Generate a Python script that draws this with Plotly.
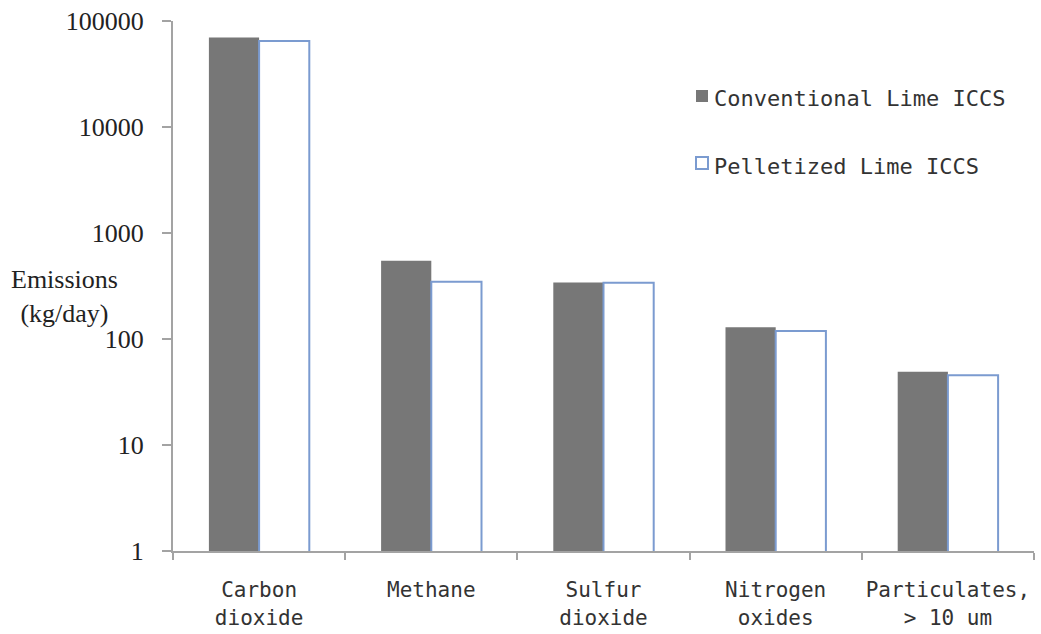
import plotly.graph_objects as go

# Daily emissions by pollutant for the two ICCS process variants
categories = [
    "Carbon<br>dioxide",
    "Methane",
    "Sulfur<br>dioxide",
    "Nitrogen<br>oxides",
    "Particulates,<br>> 10 um",
]
conventional = [69700, 546, 342, 129, 49]
pelletized = [64800, 346, 339, 119, 45.6]
series_names = ["Conventional Lime ICCS", "Pelletized Lime ICCS"]
y_ticks = [1, 10, 100, 1000, 10000, 100000]
y_tick_labels = ["1", "10", "100", "1000", "10000", "100000"]

W, H = 1041, 634
ML, MR, MT, MB = 173, 7, 21, 83
PW, PH = W - ML - MR, H - MT - MB

MONO = "DejaVu Sans Mono"
SERIF = "Liberation Serif, Times New Roman, serif"
AXIS_GRAY = "#a3a3a3"
BAR_GRAY = "#777777"
OUTLINE_BLUE = "#7b9bd0"


def px(x):
    return (x - ML) / PW


def py(y):
    return (H - MB - y) / PH


fig = go.Figure()
fig.add_trace(go.Bar(
    x=categories, y=conventional, name=series_names[0],
    marker=dict(color=BAR_GRAY, line=dict(width=0)),
    showlegend=False,
))
fig.add_trace(go.Bar(
    x=categories, y=pelletized, name=series_names[1],
    marker=dict(color="white", line=dict(color=OUTLINE_BLUE, width=2)),
    showlegend=False,
))

# Legend drawn as swatches plus labels
shapes = [
    dict(type="rect", xref="paper", yref="paper",
         x0=px(696), x1=px(708), y0=py(102), y1=py(90),
         fillcolor=BAR_GRAY, line=dict(width=0)),
    dict(type="rect", xref="paper", yref="paper",
         x0=px(696), x1=px(708), y0=py(169), y1=py(157),
         fillcolor="white", line=dict(color=OUTLINE_BLUE, width=2)),
]
annotations = [
    dict(text=series_names[0], xref="paper", yref="paper",
         x=px(712), y=py(99), xanchor="left", yanchor="middle",
         showarrow=False, font=dict(family=MONO, size=22, color="#333")),
    dict(text=series_names[1], xref="paper", yref="paper",
         x=px(712), y=py(166), xanchor="left", yanchor="middle",
         showarrow=False, font=dict(family=MONO, size=22, color="#333")),
    dict(text="Emissions<br>(kg/day)", xref="paper", yref="paper",
         x=px(64), y=py(296), xanchor="center", yanchor="middle",
         showarrow=False, align="center",
         font=dict(family=SERIF, size=26, color="#222")),
]

fig.update_layout(
    width=W, height=H,
    margin=dict(l=ML, r=MR, t=MT, b=MB, pad=0, autoexpand=False),
    paper_bgcolor="white", plot_bgcolor="white",
    barmode="group", bargap=0.417, bargroupgap=0,
    shapes=shapes, annotations=annotations,
    showlegend=False,
)
fig.update_xaxes(
    type="category", range=[-0.5, 4.5],
    showline=True, linecolor=AXIS_GRAY, linewidth=2,
    ticks="outside", tickson="boundaries", ticklen=7,
    tickcolor=AXIS_GRAY, tickwidth=2,
    showgrid=False, zeroline=False,
    tickangle=0, automargin=False,
    tickfont=dict(family=MONO, size=21, color="#333"),
    ticklabelstandoff=19,
)
fig.update_yaxes(
    type="log", range=[0, 5],
    tickvals=y_ticks, ticktext=y_tick_labels,
    showline=True, linecolor=AXIS_GRAY, linewidth=2,
    ticks="outside", ticklen=9, tickcolor=AXIS_GRAY, tickwidth=2,
    showgrid=False, zeroline=False, automargin=False,
    tickfont=dict(family=SERIF, size=26, color="#222"),
    ticklabelstandoff=13,
)

fig.write_html("out.html")
